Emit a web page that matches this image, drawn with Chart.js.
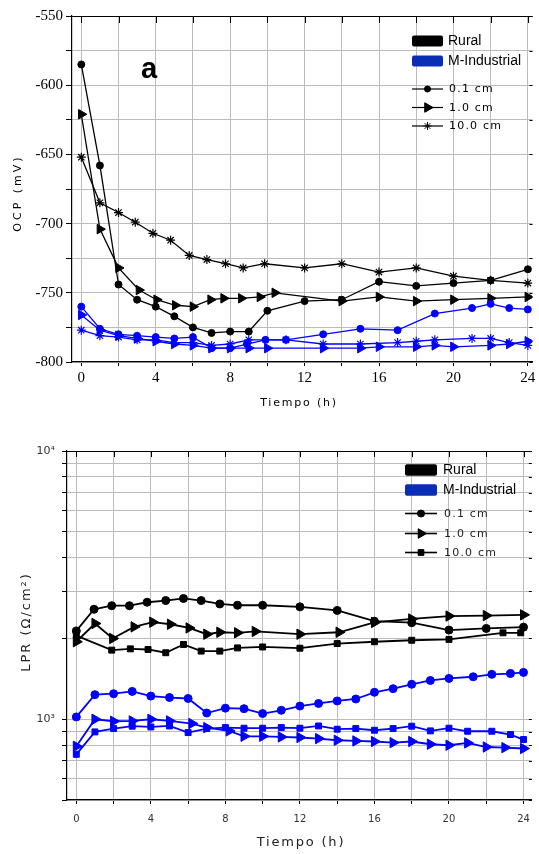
<!DOCTYPE html>
<html><head><meta charset="utf-8">
<script src="https://cdn.jsdelivr.net/npm/chart.js@4.4.0/dist/chart.umd.min.js"></script>
<style>
html,body{margin:0;padding:0;background:#fff;width:539px;height:854px;overflow:hidden}
canvas{position:absolute;left:0}
#c1{top:0}
#c2{top:420px}
</style></head><body>
<canvas id="c1" width="539" height="420"></canvas>
<canvas id="c2" width="539" height="434"></canvas>
<script>
// ---------- labels ----------
const groupNames = ['Rural', 'M-Industrial'];
const depthNames = ['0.1 cm', '1.0 cm', '10.0 cm'];
const xTitle = 'Tiempo (h)';
const ocpTitle = 'OCP (mV)';
const lprTitle = 'LPR (\u03A9/cm\u00B2)';
const panelLabel = 'a';

// ---------- OCP (mV) ----------
const ocpRural01T = [0,1,2,3,4,5,6,7,8,9,10,12,14,16,18,20,22,24];
const ocpRural01  = [-585,-658,-744,-755,-760,-767,-775,-779,-778,-778,-763,-756,-755,-742,-745,-743,-741,-733];
const ocpRural10T = [0,1,2,3.1,4.05,5.05,6,6.95,7.65,8.6,9.6,10.4,14,16,18,20,22,24];
const ocpRural10  = [-621,-704,-732,-748,-755,-759,-760,-755,-754,-754,-753,-750,-756,-753,-756,-755,-754,-753];
const ocpRural100T = [0,1,2,2.9,3.85,4.8,5.8,6.75,7.75,8.7,9.85,12,14,16,18,20,22,24];
const ocpRural100  = [-652,-685,-692,-699,-707,-712,-723,-726,-729,-732,-729,-732,-729,-735,-732,-738,-741,-743];
const ocpInd01T = [0,1,2,3,4,5,6,7,8,8.9,9.9,11,13,15,17,19,21,22,23,24];
const ocpInd01  = [-760,-776,-780,-781,-782,-783,-782,-790,-790,-787,-784,-784,-780,-776,-777,-765,-761,-758,-761,-762];
const ocpInd10T = [0,1,2,3,4,5,6,7,8,9,10,13,15,16,18,19,20,22,23,24];
const ocpInd10  = [-766,-777,-781,-783,-785,-787,-788,-790,-790,-790,-790,-790,-790,-789,-789,-788,-789,-788,-787,-785];
const ocpInd100T = [0,1,2,3,4,5,6,7,8,9,11,13,15,17,18,19,21,22,23,24];
const ocpInd100  = [-777,-781,-782,-784,-784,-786,-786,-788,-787,-784,-784,-787,-787,-786,-785,-784,-783,-783,-786,-788];
const ocpYTicks = [-800,-775,-750,-725,-700,-675,-650,-625,-600,-575,-550];
const ocpXTicks = [0,2,4,6,8,10,12,14,16,18,20,22,24];

// ---------- LPR (Ohm/cm2) ----------
const lprRural01T = [0,0.95,1.9,2.85,3.8,4.8,5.75,6.7,7.7,8.65,10,12,14,16,18,20,22,24];
const lprRural01  = [2135,2570,2650,2650,2730,2770,2820,2770,2690,2660,2660,2625,2545,2320,2290,2150,2180,2205];
const lprRural10T = [0,1,1.95,3.1,4.1,5.05,6.05,7,7.7,8.65,9.6,12,14.1,16,18,20,22,24];
const lprRural10  = [1945,2275,2000,2210,2300,2260,2190,2075,2110,2100,2125,2075,2110,2295,2365,2425,2435,2450];
const lprRural100T = [0,1.9,2.9,3.85,4.8,5.75,6.7,7.7,8.65,10,12,14,16,18,20,22.9,23.85];
const lprRural100  = [2050,1810,1830,1820,1770,1900,1795,1795,1845,1860,1840,1915,1945,1970,1985,2100,2100];
const lprInd01T = [0,1,2,3,4,5,6,7,8,9,10,11,12,13,14,15,16,17,18,19,20,21.3,22.3,23.3,24];
const lprInd01  = [1020,1235,1245,1270,1220,1205,1195,1055,1100,1095,1050,1080,1120,1145,1170,1190,1260,1300,1350,1395,1420,1440,1470,1480,1495];
const lprInd10T = [0,1,2,3,4,5,6.2,7,8.2,9,10,11,12,13,14,15,16,17,18,19,20,21,22,23,24];
const lprInd10  = [793,1000,983,986,1000,986,964,931,905,864,864,859,855,847,835,830,826,818,826,807,800,816,788,784,778];
const lprInd100T = [0,1,2,3,4,5,6,7,8,9,10,11,12,13,14,15,16,17,18,19,20,21,22.3,23.3,24];
const lprInd100  = [740,897,923,942,936,944,892,923,931,926,926,931,926,944,918,923,910,923,942,905,926,902,902,877,840];
const lprYTicks = [500,600,700,800,900,1000,2000,3000,4000,5000,6000,7000,8000,9000,10000];
const lprXTicks = [0,2,4,6,8,10,12,14,16,18,20,22,24];

// ---------- helpers ----------
const BLUE = '#0000ff';
const GRID = '#bcbcbc';
const pts = (T, V) => T.map((t, i) => ({x: t, y: V[i]}));
function ds(T, V, color, style, radius, lw, rot) {
  return {data: pts(T, V), borderColor: color, backgroundColor: color,
    pointBackgroundColor: color, pointBorderColor: color,
    pointStyle: style, pointRadius: radius, pointRotation: rot || 0,
    pointBorderWidth: style === 'star' ? 1.2 : 1, borderWidth: lw, tension: 0, fill: false};
}

const deco = {
  id: 'deco',
  afterDraw(chart, args, o) {
    const ctx = chart.ctx, a = chart.chartArea, xs = chart.scales.x, ys = chart.scales.y;
    ctx.save();
    ctx.strokeStyle = '#000'; ctx.lineWidth = 1;
    ctx.beginPath();
    ctx.moveTo(a.left, a.top + 0.5); ctx.lineTo(a.right, a.top + 0.5);
    xs.ticks.forEach(t => { const p = Math.round(xs.getPixelForValue(t.value)) + 0.5; ctx.moveTo(p, a.top); ctx.lineTo(p, a.top + o.topTick); });
    ys.ticks.forEach(t => { const p = Math.round(ys.getPixelForValue(t.value)) + 0.5; ctx.moveTo(a.right, p); ctx.lineTo(a.right - 3, p); });
    ctx.stroke();
    // axis titles
    ctx.fillStyle = o.titleColor; ctx.textAlign = 'center'; ctx.textBaseline = 'middle';
    ctx.font = o.xTitleFont; ctx.letterSpacing = o.xTitleSpacing;
    ctx.fillText(xTitle, o.xTitleX, o.xTitleY);
    ctx.save();
    ctx.translate(o.yTitleX, o.yTitleY); ctx.rotate(-Math.PI / 2);
    ctx.font = o.yTitleFont; ctx.letterSpacing = o.yTitleSpacing;
    ctx.fillText(o.yTitle, 0, 0);
    ctx.restore();
    ctx.letterSpacing = '0px';
    if (o.panel) {
      ctx.font = 'bold 29px "Liberation Sans"'; ctx.fillStyle = '#000';
      ctx.textAlign = 'left'; ctx.textBaseline = 'alphabetic';
      ctx.fillText(panelLabel, o.panel.x, o.panel.y);
    }
    // legend
    const L = o.legend;
    const boxColors = ['#000000', '#0a2db5'];
    groupNames.forEach((n, i) => {
      ctx.fillStyle = boxColors[i];
      ctx.beginPath();
      ctx.roundRect(L.x1, L.boxY[i] - L.boxH / 2, L.x2 - L.x1, L.boxH, 2);
      ctx.fill();
      ctx.fillStyle = '#000'; ctx.font = L.font1; ctx.textAlign = 'left'; ctx.textBaseline = 'middle';
      ctx.fillText(n, L.tx1, L.boxY[i] + 0.5);
    });
    depthNames.forEach((n, i) => {
      const y = L.lineY[i];
      ctx.strokeStyle = '#000'; ctx.lineWidth = L.lw;
      ctx.beginPath(); ctx.moveTo(L.x1, y); ctx.lineTo(L.x2, y); ctx.stroke();
      const m = L.markers[i];
      ctx.fillStyle = '#000'; ctx.strokeStyle = '#000'; ctx.lineWidth = m.bw;
      Chart.helpers.drawPoint(ctx, {pointStyle: m.style, radius: m.r, rotation: m.rot, borderWidth: m.bw}, (L.x1 + L.x2) / 2, y);
      if (m.style !== 'star') ctx.fill();
      ctx.fillStyle = L.textColor; ctx.font = L.font2; ctx.letterSpacing = L.spacing2;
      ctx.textAlign = 'left'; ctx.textBaseline = 'middle';
      ctx.fillText(n, L.tx2, y + 0.5);
      ctx.letterSpacing = '0px';
    });
    ctx.restore();
  }
};
Chart.register(deco);

function setTicks(list) { return s => { s.ticks = list.map(v => ({value: v})); }; }

// ---------- chart a: OCP ----------
new Chart(document.getElementById('c1'), {
  type: 'line',
  data: {datasets: [
    ds(ocpInd01T, ocpInd01, BLUE, 'circle', 3.5, 1.3),
    ds(ocpInd10T, ocpInd10, BLUE, 'triangle', 5.5, 1.3, 90),
    ds(ocpInd100T, ocpInd100, BLUE, 'star', 4.5, 1.3),
    ds(ocpRural01T, ocpRural01, '#000', 'circle', 3.5, 1.3),
    ds(ocpRural10T, ocpRural10, '#000', 'triangle', 5.5, 1.3, 90),
    ds(ocpRural100T, ocpRural100, '#000', 'star', 4.5, 1.3)
  ]},
  options: {
    responsive: false, animation: false, devicePixelRatio: 1,
    layout: {padding: {left: 0, top: 16, right: 2, bottom: 0}},
    plugins: {legend: {display: false}, tooltip: {enabled: false},
      deco: {topTick: 7, titleColor: '#000',
        xTitleFont: '11px "DejaVu Sans"', xTitleSpacing: '1.8px', xTitleX: 299, xTitleY: 403,
        yTitle: ocpTitle, yTitleFont: '11px "DejaVu Sans"', yTitleSpacing: '3px', yTitleX: 18, yTitleY: 193,
        panel: {x: 141, y: 78},
        legend: {x1: 412, x2: 443, boxH: 11, boxY: [41, 61], tx1: 448, font1: '14px "Liberation Sans"',
          lineY: [89, 107.5, 126], tx2: 449, font2: '11px "DejaVu Sans"', spacing2: '1.2px', textColor: '#000', lw: 1.2,
          markers: [{style: 'circle', r: 3, rot: 0, bw: 1}, {style: 'triangle', r: 5.5, rot: 90, bw: 1}, {style: 'star', r: 4, rot: 0, bw: 1}]}
      }},
    scales: {
      x: {type: 'linear', min: -0.5, max: 24.25,
        afterFit: s => { s.height = 58; }, afterBuildTicks: setTicks(ocpXTicks),
        grid: {color: GRID, tickColor: '#000', tickLength: 4, lineWidth: 1},
        border: {color: '#000', width: 1.2},
        ticks: {autoSkip: false, maxRotation: 0, padding: 3, color: '#000',
          font: {family: 'Liberation Serif', size: 15},
          callback: v => (v % 4 === 0 ? String(v) : '')}},
      y: {type: 'linear', min: -800, max: -550,
        afterFit: s => { s.width = 72; }, afterBuildTicks: setTicks(ocpYTicks),
        grid: {color: GRID, tickColor: '#000', tickLength: 6, lineWidth: 1},
        border: {color: '#000', width: 1.2},
        ticks: {autoSkip: false, padding: 3, color: '#000',
          font: {family: 'Liberation Serif', size: 15},
          callback: v => (v % 50 === 0 ? String(v) : '')}}
    }
  }
});

// ---------- chart b: LPR ----------
new Chart(document.getElementById('c2'), {
  type: 'line',
  data: {datasets: [
    ds(lprInd01T, lprInd01, BLUE, 'circle', 4, 1.8),
    ds(lprInd10T, lprInd10, BLUE, 'triangle', 6, 1.8, 90),
    ds(lprInd100T, lprInd100, BLUE, 'rect', 4.2, 1.8),
    ds(lprRural01T, lprRural01, '#000', 'circle', 4, 1.8),
    ds(lprRural10T, lprRural10, '#000', 'triangle', 6, 1.8, 90),
    ds(lprRural100T, lprRural100, '#000', 'rect', 4.2, 1.8)
  ]},
  options: {
    responsive: false, animation: false, devicePixelRatio: 1,
    layout: {padding: {left: 0, top: 31, right: 4, bottom: 0}},
    plugins: {legend: {display: false}, tooltip: {enabled: false},
      deco: {topTick: 6, titleColor: '#222',
        xTitleFont: '13px "DejaVu Sans"', xTitleSpacing: '1.8px', xTitleX: 301, xTitleY: 423,
        yTitle: lprTitle, yTitleFont: '13px "DejaVu Sans"', yTitleSpacing: '2px', yTitleX: 27, yTitleY: 202,
        panel: null,
        legend: {x1: 405, x2: 437, boxH: 11.5, boxY: [50, 70], tx1: 443, font1: '14px "Liberation Sans"',
          lineY: [93.5, 113.5, 132.5], tx2: 444, font2: '11px "DejaVu Sans"', spacing2: '1.2px', textColor: '#222', lw: 1.6,
          markers: [{style: 'circle', r: 3.5, rot: 0, bw: 1}, {style: 'triangle', r: 5.5, rot: 90, bw: 1}, {style: 'rect', r: 4, rot: 0, bw: 1}]}
      }},
    scales: {
      x: {type: 'linear', min: -0.5, max: 24.45,
        afterFit: s => { s.height = 54; }, afterBuildTicks: setTicks(lprXTicks),
        grid: {color: GRID, tickColor: '#000', tickLength: 4, lineWidth: 1},
        border: {color: '#000', width: 1.2},
        ticks: {autoSkip: false, maxRotation: 0, padding: 9, color: '#333',
          font: {family: 'DejaVu Sans', size: 10},
          callback: v => (v % 4 === 0 ? String(v) : '')}},
      y: {type: 'logarithmic', min: 500, max: 10000,
        afterFit: s => { s.width = 67; }, afterBuildTicks: setTicks(lprYTicks),
        grid: {color: GRID, tickColor: '#000', tickLength: 5, lineWidth: 1},
        border: {color: '#000', width: 1.2},
        ticks: {autoSkip: false, padding: 7, color: '#333',
          font: {family: 'DejaVu Sans', size: 11},
          callback: v => (v === 1000 ? '10\u00B3' : (v === 10000 ? '10\u2074' : ''))}}
    }
  }
});
</script>
</body></html>
